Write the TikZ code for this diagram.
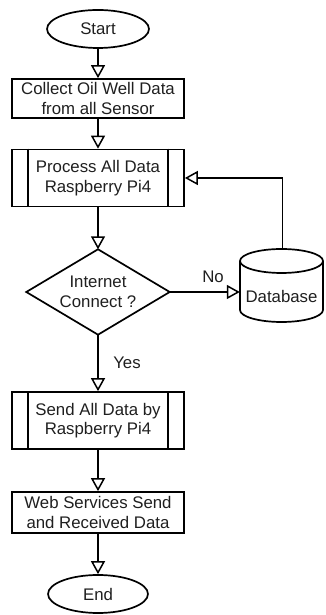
\documentclass[tikz,border=0pt]{standalone}
\usepackage{fontspec}
\setmainfont{Liberation Sans}
\usetikzlibrary{arrows.meta,shapes.geometric}
\begin{document}
\begin{tikzpicture}[x=1pt,y=1pt,
  every node/.style={font=\fontsize{16.8}{19.5}\selectfont, text=black!88, align=center, inner sep=0pt},
  term/.style={draw, ellipse, line width=1.7pt, minimum width=#1, minimum height=38pt},
  procbox/.style={draw, rectangle, line width=1.7pt, minimum width=172pt},
  arr/.style={line width=1.7pt, -{Triangle[width=14pt,length=13pt,fill=white,line width=1.5pt]}},
  ln/.style={line width=1.7pt}]
\useasboundingbox (0,0) rectangle (325,615);
\node[term=102pt] (start) at (98,586) {Start};
\node[procbox, minimum height=39pt] (collect) at (98,516.5) {Collect Oil Well Data\\from all Sensor};
\node[procbox, minimum height=57pt] (proc) at (98,437) {Process All Data\\Raspberry Pi4};
\node[minimum width=143pt, minimum height=85pt] (dec) at (98,323) {Internet\\Connect ?};
\draw[ln, line join=miter] (dec.north) -- (dec.east) -- (dec.south) -- (dec.west) -- cycle;
\draw[ln, fill=white] (240,354) -- (240,305) arc[start angle=180, end angle=360, x radius=41.5, y radius=12] -- (323,354);
\draw[ln] (281.5,354) ellipse [x radius=41.5, y radius=12];
\node[minimum width=83pt] (db) at (281.5,318) {Database};
\coordinate (dbtop) at (282.5,366);
\node[procbox, minimum height=57pt] (send) at (98,194.5) {Send All Data by\\Raspberry Pi4};
\node[procbox, minimum height=41pt] (web) at (98,102.5) {Web Services Send\\and Received Data};
\node[term=100pt] (end) at (98,21) {End};
\node (no) at (213,338) {No};
\node (yes) at (127,252) {Yes};
\foreach \b in {proc,send}{
  \draw[ln] ([xshift=17pt]\b.north west) -- ([xshift=17pt]\b.south west);
  \draw[ln] ([xshift=-17pt]\b.north east) -- ([xshift=-17pt]\b.south east);
}
\draw[arr] (start.south) -- (collect.north);
\draw[arr] (collect.south) -- (proc.north);
\draw[arr] (proc.south) -- (dec.north);
\draw[arr] (dec.east) -- (db.west |- dec.east);
\draw[arr] (dbtop) -- (dbtop |- proc.east) -- (proc.east);
\draw[arr] (dec.south) -- (send.north);
\draw[arr] (send.south) -- (web.north);
\draw[arr] (web.south) -- (end.north);
\end{tikzpicture}
\end{document}
